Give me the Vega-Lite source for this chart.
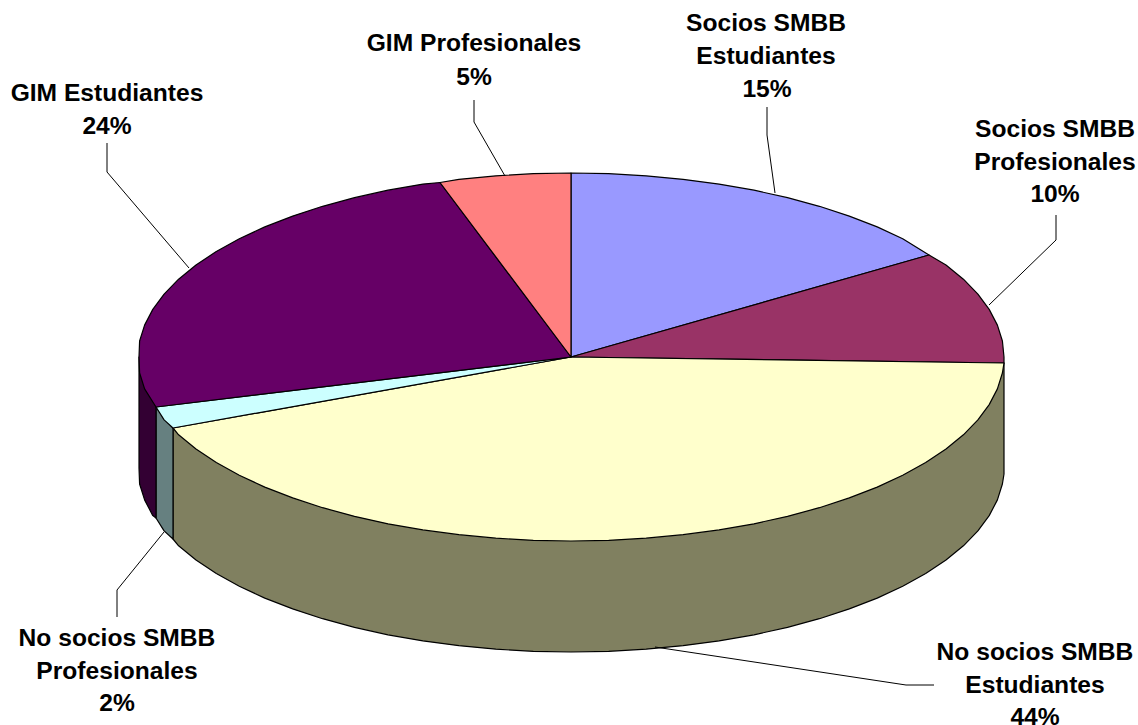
{"$schema":"https://vega.github.io/schema/vega-lite/v6.json","width":1138,"height":725,"autosize":{"type":"none"},"padding":0,"background":"white","config":{"view":{"stroke":null}},"datasets":{"shapes":[
{"p":"w_noest","i":0,"x":1004,"y":363},{"p":"w_noest","i":1,"x":1004,"y":474},{"p":"w_noest","i":2,"x":1002.4,"y":484},{"p":"w_noest","i":3,"x":997.4,"y":499.9},{"p":"w_noest","i":4,"x":989.2,"y":515.6},{"p":"w_noest","i":5,"x":977.9,"y":530.9},{"p":"w_noest","i":6,"x":963.4,"y":545.8},{"p":"w_noest","i":7,"x":946,"y":560},{"p":"w_noest","i":8,"x":925.7,"y":573.5},{"p":"w_noest","i":9,"x":902.7,"y":586.3},{"p":"w_noest","i":10,"x":877.2,"y":598.1},{"p":"w_noest","i":11,"x":849.3,"y":608.9},{"p":"w_noest","i":12,"x":819.4,"y":618.7},{"p":"w_noest","i":13,"x":787.5,"y":627.3},{"p":"w_noest","i":14,"x":754,"y":634.8},{"p":"w_noest","i":15,"x":719.1,"y":640.9},{"p":"w_noest","i":16,"x":683.1,"y":645.7},{"p":"w_noest","i":17,"x":646.2,"y":649.2},{"p":"w_noest","i":18,"x":608.7,"y":651.3},{"p":"w_noest","i":19,"x":571,"y":652},{"p":"w_noest","i":20,"x":533.3,"y":651.3},{"p":"w_noest","i":21,"x":495.8,"y":649.2},{"p":"w_noest","i":22,"x":458.9,"y":645.7},{"p":"w_noest","i":23,"x":422.9,"y":640.9},{"p":"w_noest","i":24,"x":388,"y":634.8},{"p":"w_noest","i":25,"x":354.5,"y":627.3},{"p":"w_noest","i":26,"x":322.6,"y":618.7},{"p":"w_noest","i":27,"x":292.7,"y":608.9},{"p":"w_noest","i":28,"x":264.8,"y":598.1},{"p":"w_noest","i":29,"x":239.3,"y":586.3},{"p":"w_noest","i":30,"x":216.3,"y":573.5},{"p":"w_noest","i":31,"x":196,"y":560},{"p":"w_noest","i":32,"x":178.6,"y":545.8},{"p":"w_noest","i":33,"x":173,"y":539},{"p":"w_noest","i":34,"x":173,"y":428},
{"p":"w_noprof","i":0,"x":173,"y":428},{"p":"w_noprof","i":1,"x":173,"y":539},{"p":"w_noprof","i":2,"x":164.1,"y":530.9},{"p":"w_noprof","i":3,"x":156,"y":518},{"p":"w_noprof","i":4,"x":156,"y":407},
{"p":"w_gimest","i":0,"x":156,"y":407},{"p":"w_gimest","i":1,"x":156,"y":518},{"p":"w_gimest","i":2,"x":152.8,"y":515.6},{"p":"w_gimest","i":3,"x":144.6,"y":499.9},{"p":"w_gimest","i":4,"x":139.6,"y":484},{"p":"w_gimest","i":5,"x":139,"y":468},{"p":"w_gimest","i":6,"x":139,"y":357},
{"p":"socest","i":0,"x":571,"y":357},{"p":"socest","i":1,"x":571,"y":173},{"p":"socest","i":2,"x":608.7,"y":173.7},{"p":"socest","i":3,"x":646.2,"y":175.8},{"p":"socest","i":4,"x":683.1,"y":179.3},{"p":"socest","i":5,"x":719.1,"y":184.1},{"p":"socest","i":6,"x":754,"y":190.2},{"p":"socest","i":7,"x":787.5,"y":197.7},{"p":"socest","i":8,"x":819.4,"y":206.3},{"p":"socest","i":9,"x":849.3,"y":216.1},{"p":"socest","i":10,"x":877.2,"y":226.9},{"p":"socest","i":11,"x":902.7,"y":238.7},{"p":"socest","i":12,"x":929,"y":255},
{"p":"socprof","i":0,"x":571,"y":357},{"p":"socprof","i":1,"x":929,"y":255},{"p":"socprof","i":2,"x":946,"y":265},{"p":"socprof","i":3,"x":963.4,"y":279.2},{"p":"socprof","i":4,"x":977.9,"y":294.1},{"p":"socprof","i":5,"x":989.2,"y":309.4},{"p":"socprof","i":6,"x":997.4,"y":325.1},{"p":"socprof","i":7,"x":1002.4,"y":341},{"p":"socprof","i":8,"x":1004,"y":357},{"p":"socprof","i":9,"x":1004,"y":363},
{"p":"noest","i":0,"x":571,"y":357},{"p":"noest","i":1,"x":1004,"y":363},{"p":"noest","i":2,"x":1002.4,"y":373},{"p":"noest","i":3,"x":997.4,"y":388.9},{"p":"noest","i":4,"x":989.2,"y":404.6},{"p":"noest","i":5,"x":977.9,"y":419.9},{"p":"noest","i":6,"x":963.4,"y":434.8},{"p":"noest","i":7,"x":946,"y":449},{"p":"noest","i":8,"x":925.7,"y":462.5},{"p":"noest","i":9,"x":902.7,"y":475.3},{"p":"noest","i":10,"x":877.2,"y":487.1},{"p":"noest","i":11,"x":849.3,"y":497.9},{"p":"noest","i":12,"x":819.4,"y":507.7},{"p":"noest","i":13,"x":787.5,"y":516.3},{"p":"noest","i":14,"x":754,"y":523.8},{"p":"noest","i":15,"x":719.1,"y":529.9},{"p":"noest","i":16,"x":683.1,"y":534.7},{"p":"noest","i":17,"x":646.2,"y":538.2},{"p":"noest","i":18,"x":608.7,"y":540.3},{"p":"noest","i":19,"x":571,"y":541},{"p":"noest","i":20,"x":533.3,"y":540.3},{"p":"noest","i":21,"x":495.8,"y":538.2},{"p":"noest","i":22,"x":458.9,"y":534.7},{"p":"noest","i":23,"x":422.9,"y":529.9},{"p":"noest","i":24,"x":388,"y":523.8},{"p":"noest","i":25,"x":354.5,"y":516.3},{"p":"noest","i":26,"x":322.6,"y":507.7},{"p":"noest","i":27,"x":292.7,"y":497.9},{"p":"noest","i":28,"x":264.8,"y":487.1},{"p":"noest","i":29,"x":239.3,"y":475.3},{"p":"noest","i":30,"x":216.3,"y":462.5},{"p":"noest","i":31,"x":196,"y":449},{"p":"noest","i":32,"x":178.6,"y":434.8},{"p":"noest","i":33,"x":173,"y":428},
{"p":"noprof","i":0,"x":571,"y":357},{"p":"noprof","i":1,"x":173,"y":428},{"p":"noprof","i":2,"x":164.1,"y":419.9},{"p":"noprof","i":3,"x":156,"y":407},
{"p":"gimest","i":0,"x":571,"y":357},{"p":"gimest","i":1,"x":156,"y":407},{"p":"gimest","i":2,"x":144.6,"y":388.9},{"p":"gimest","i":3,"x":139.6,"y":373},{"p":"gimest","i":4,"x":139,"y":357},{"p":"gimest","i":5,"x":139.6,"y":341},{"p":"gimest","i":6,"x":144.6,"y":325.1},{"p":"gimest","i":7,"x":152.8,"y":309.4},{"p":"gimest","i":8,"x":164.1,"y":294.1},{"p":"gimest","i":9,"x":178.6,"y":279.2},{"p":"gimest","i":10,"x":196,"y":265},{"p":"gimest","i":11,"x":216.3,"y":251.5},{"p":"gimest","i":12,"x":239.3,"y":238.7},{"p":"gimest","i":13,"x":264.8,"y":226.9},{"p":"gimest","i":14,"x":292.7,"y":216.1},{"p":"gimest","i":15,"x":322.6,"y":206.3},{"p":"gimest","i":16,"x":354.5,"y":197.7},{"p":"gimest","i":17,"x":388,"y":190.2},{"p":"gimest","i":18,"x":422.9,"y":184.1},{"p":"gimest","i":19,"x":440,"y":182.5},
{"p":"gimprof","i":0,"x":571,"y":357},{"p":"gimprof","i":1,"x":440,"y":182.5},{"p":"gimprof","i":2,"x":458.9,"y":179.3},{"p":"gimprof","i":3,"x":495.8,"y":175.8},{"p":"gimprof","i":4,"x":533.3,"y":173.7},{"p":"gimprof","i":5,"x":571,"y":173}
],"leaders":[
{"l":"a","i":0,"x":474,"y":100},{"l":"a","i":1,"x":474,"y":122},{"l":"a","i":2,"x":505,"y":176},
{"l":"b","i":0,"x":767,"y":107},{"l":"b","i":1,"x":767,"y":135},{"l":"b","i":2,"x":775,"y":193},
{"l":"c","i":0,"x":1056,"y":215},{"l":"c","i":1,"x":1056,"y":240},{"l":"c","i":2,"x":989,"y":305},
{"l":"d","i":0,"x":107,"y":143},{"l":"d","i":1,"x":107,"y":172},{"l":"d","i":2,"x":189,"y":268},
{"l":"e","i":0,"x":655,"y":647},{"l":"e","i":1,"x":906,"y":685},{"l":"e","i":2,"x":934,"y":685},
{"l":"f","i":0,"x":164,"y":532},{"l":"f","i":1,"x":117,"y":590},{"l":"f","i":2,"x":117,"y":617}
],"labels":[
{"t":"GIM Profesionales","x":474,"y":44},{"t":"5%","x":474,"y":78},
{"t":"Socios SMBB","x":766,"y":24},{"t":"Estudiantes","x":766,"y":57},{"t":"15%","x":767,"y":90},
{"t":"Socios SMBB","x":1055,"y":130},{"t":"Profesionales","x":1055,"y":163},{"t":"10%","x":1055,"y":195},
{"t":"GIM Estudiantes","x":107,"y":94},{"t":"24%","x":107,"y":127},
{"t":"No socios SMBB","x":117,"y":639},{"t":"Profesionales","x":117,"y":672},{"t":"2%","x":117,"y":704},
{"t":"No socios SMBB","x":1035,"y":653},{"t":"Estudiantes","x":1035,"y":686},{"t":"44%","x":1035,"y":718}
]},
"layer":[
{"data":{"name":"shapes"},"mark":{"type":"line","interpolate":"linear-closed","stroke":"black","strokeWidth":1.2,"strokeJoin":"round"},"encoding":{
"x":{"field":"x","type":"quantitative","scale":{"domain":[0,1138]},"axis":null},
"y":{"field":"y","type":"quantitative","scale":{"domain":[725,0]},"axis":null},
"order":{"field":"i"},"detail":{"field":"p"},
"fill":{"field":"p","type":"nominal","legend":null,"scale":{"domain":["w_noest","w_noprof","w_gimest","socest","socprof","noest","noprof","gimest","gimprof"],"range":["#808060","#668080","#330033","#9999FF","#993366","#FFFFCC","#CCFFFF","#660066","#FF8080"]}}}},
{"data":{"name":"leaders"},"mark":{"type":"line","stroke":"black","strokeWidth":1},"encoding":{
"x":{"field":"x","type":"quantitative","scale":{"domain":[0,1138]},"axis":null},
"y":{"field":"y","type":"quantitative","scale":{"domain":[725,0]},"axis":null},
"order":{"field":"i"},"detail":{"field":"l"}}},
{"data":{"name":"labels"},"mark":{"type":"text","font":"Liberation Sans","fontWeight":"bold","fontSize":24.6,"align":"center","baseline":"middle","color":"black"},"encoding":{
"x":{"field":"x","type":"quantitative","scale":{"domain":[0,1138]},"axis":null},
"y":{"field":"y","type":"quantitative","scale":{"domain":[725,0]},"axis":null},
"text":{"field":"t"}}}
]}
